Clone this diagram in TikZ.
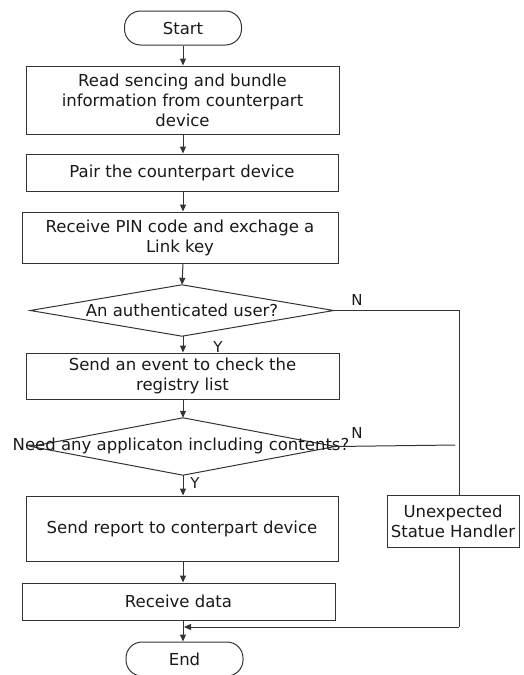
\documentclass[tikz,border=0pt]{standalone}
\usepackage{fontspec}
\setmainfont{DejaVu Sans}
\usetikzlibrary{arrows.meta}
\begin{document}
\begin{tikzpicture}[x=1pt,y=-1pt,
  every node/.style={font=\fontsize{16.5}{20}\selectfont, text=black!90},
  ln/.style={draw=black!80, line width=1pt},
  arr/.style={ln, -{Triangle[length=7pt,width=6pt]}},
  box/.style={ln, rectangle, inner sep=0pt, align=center},
  term/.style={ln, rectangle, rounded corners=16pt, inner sep=0pt, minimum width=117pt, minimum height=34pt},
  dia/.style={rectangle, inner sep=0pt, align=center},
  lab/.style={font=\fontsize{15}{18}\selectfont, inner sep=0pt}
]
\useasboundingbox (0,0) rectangle (523,675);

\node[term] (start) at (183,28) {Start};
\node[box, minimum width=313pt, minimum height=68pt] (b1) at (182.5,100) {Read sencing and bundle\\information from counterpart\\device};
\node[box, minimum width=312pt, minimum height=37pt] (b2) at (182,172.5) {Pair the counterpart device};
\node[box, minimum width=316pt, minimum height=51pt] (b3) at (180,237.5) {Receive PIN code and exchage a\\Link key};
\node[dia, minimum width=303pt, minimum height=51pt] (d1) at (182,310.5) {An authenticated user?};
\draw[ln] (d1.north) -- (d1.east) -- (d1.south) -- (d1.west) -- cycle;
\node[box, minimum width=313pt, minimum height=46pt] (b4) at (182.5,376) {Send an event to check the\\registry list};
\node[dia, minimum width=304pt, minimum height=57pt] (d2) at (183,446.5) {};
\draw[ln] (d2.north) -- (d2.east) -- (d2.south) -- (d2.west) -- cycle;
\node[inner sep=0pt] (d2t) at (181,446) {Need any applicaton including contents?};
\node[box, minimum width=312pt, minimum height=65pt] (b5) at (182,528.5) {Send report to conterpart device};
\node[box, minimum width=313pt, minimum height=37pt] (b6) at (178.5,601.5) {Receive data};
\node[term] (end) at (184.5,659) {End};
\node[box, minimum width=132pt, minimum height=52pt] (ue) at (453,521) {Unexpected\\Statue Handler};

% main flow
\coordinate (cx) at (183,0);
\draw[arr] (start.south) -- (start.south |- b1.north);
\draw[arr] (cx |- b1.south) -- (cx |- b2.north);
\draw[arr] (cx |- b2.south) -- (cx |- b3.north);
\draw[arr] (cx |- b3.south) -- (d1.north);
\draw[arr] (cx |- d1.south) -- (cx |- b4.north);
\draw[arr] (cx |- b4.south) -- (d2.north);
\draw[arr] (d2.south) -- (cx |- b5.north);
\draw[arr] (cx |- b5.south) -- (cx |- b6.north);
\draw[arr] (cx |- b6.south) -- (cx |- end.north);

% N branches
\coordinate (vx) at (459,0);
\draw[ln] (d1.east) -- (vx |- d1.east) -- (vx |- ue.north);
\coordinate (n2end) at (455,445);
\draw[ln] (d2.east) -- (n2end);
\coordinate (bot) at (459,627);
\draw[ln] (vx |- ue.south) -- (bot);
\draw[arr] (bot) -- (184,627);

% labels
\node[lab] (ln1) at (357,300) {N};
\node[lab] (ly1) at (218,347) {Y};
\node[lab] (ln2) at (357,433) {N};
\node[lab] (ly2) at (195,483) {Y};
\end{tikzpicture}
\end{document}
